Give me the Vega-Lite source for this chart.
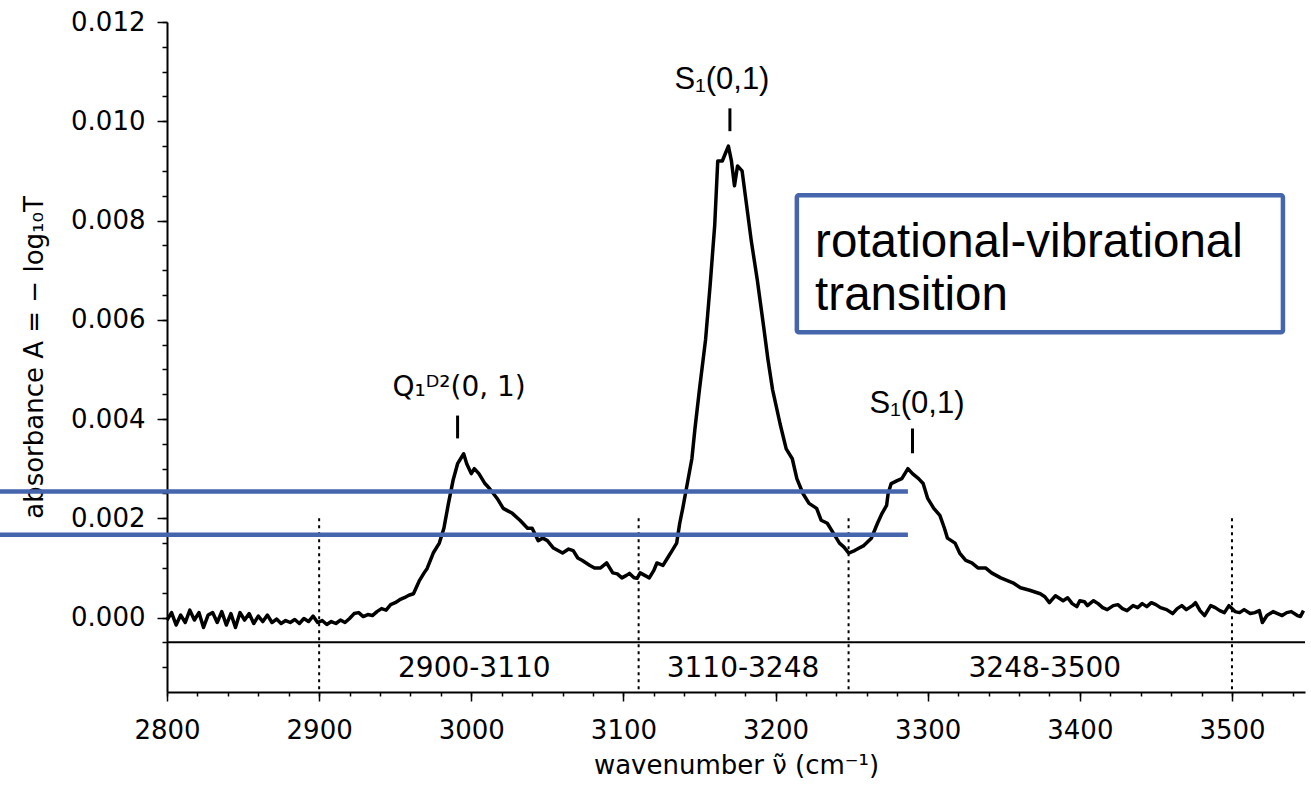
{
  "$schema": "https://vega.github.io/schema/vega-lite/v6.json",
  "width": 1138,
  "height": 670,
  "autosize": {"type": "none"},
  "padding": {"left": 167, "top": 22, "right": 6, "bottom": 93},
  "background": "white",
  "config": {
    "view": {"stroke": null},
    "axis": {
      "labelFont": "DejaVu Sans",
      "titleFont": "DejaVu Sans",
      "titleFontWeight": "normal",
      "labelColor": "black",
      "titleColor": "black",
      "domainColor": "black",
      "tickColor": "black",
      "domainWidth": 2,
      "tickWidth": 1.5,
      "grid": false,
      "labelFlush": false,
      "labelOverlap": false
    }
  },
  "datasets": {
    "spectrum": [
      {"nu": 2800, "A": -0.00005}, {"nu": 2803, "A": 0.0001}, {"nu": 2806, "A": -0.00015}, {"nu": 2809, "A": 0.00005},
      {"nu": 2812, "A": -0.0001}, {"nu": 2815, "A": 0.00015}, {"nu": 2818, "A": -0.00005}, {"nu": 2821, "A": 0.0001},
      {"nu": 2824, "A": -0.0002}, {"nu": 2827, "A": 0.00005}, {"nu": 2830, "A": 0.0001}, {"nu": 2833, "A": -0.0001},
      {"nu": 2836, "A": 0.00012}, {"nu": 2839, "A": -0.00015}, {"nu": 2842, "A": 0.00008}, {"nu": 2845, "A": -0.0002},
      {"nu": 2848, "A": 0.0001}, {"nu": 2851, "A": -0.00005}, {"nu": 2854, "A": 0.00008}, {"nu": 2857, "A": -0.00012},
      {"nu": 2860, "A": 0.00003}, {"nu": 2863, "A": -0.00008}, {"nu": 2866, "A": 0.00005}, {"nu": 2869, "A": -0.0001},
      {"nu": 2872, "A": -0.00003}, {"nu": 2875, "A": -0.00012}, {"nu": 2878, "A": -0.00006}, {"nu": 2881, "A": -0.0001},
      {"nu": 2884, "A": -0.00004}, {"nu": 2887, "A": -0.00012}, {"nu": 2890, "A": -0.00002}, {"nu": 2893, "A": -0.00008},
      {"nu": 2896, "A": 0.00003}, {"nu": 2899, "A": -0.0001}, {"nu": 2902, "A": -0.00006}, {"nu": 2905, "A": -0.00014},
      {"nu": 2908, "A": -0.00008}, {"nu": 2911, "A": -0.00012}, {"nu": 2914, "A": -0.00005}, {"nu": 2917, "A": -0.0001},
      {"nu": 2920, "A": -0.00002}, {"nu": 2923, "A": 0.00008}, {"nu": 2926, "A": 0.0001}, {"nu": 2929, "A": 0.00002},
      {"nu": 2932, "A": 0.00006}, {"nu": 2935, "A": 0.00004}, {"nu": 2938, "A": 0.00012}, {"nu": 2941, "A": 0.00018},
      {"nu": 2944, "A": 0.00015}, {"nu": 2947, "A": 0.00026}, {"nu": 2950, "A": 0.0003}, {"nu": 2953, "A": 0.00036},
      {"nu": 2956, "A": 0.0004}, {"nu": 2959, "A": 0.00045}, {"nu": 2962, "A": 0.00048}, {"nu": 2966, "A": 0.00075},
      {"nu": 2969, "A": 0.0009}, {"nu": 2971, "A": 0.00099}, {"nu": 2975, "A": 0.0013}, {"nu": 2979, "A": 0.0015},
      {"nu": 2982, "A": 0.0018}, {"nu": 2985, "A": 0.0023}, {"nu": 2988, "A": 0.00276}, {"nu": 2991, "A": 0.0031},
      {"nu": 2995, "A": 0.0033}, {"nu": 2997, "A": 0.0031}, {"nu": 3000, "A": 0.0029}, {"nu": 3002, "A": 0.003},
      {"nu": 3005, "A": 0.0029}, {"nu": 3009, "A": 0.0027}, {"nu": 3012, "A": 0.0026}, {"nu": 3017, "A": 0.0024},
      {"nu": 3021, "A": 0.0022}, {"nu": 3024, "A": 0.00215}, {"nu": 3027, "A": 0.0021}, {"nu": 3032, "A": 0.00196},
      {"nu": 3037, "A": 0.0018}, {"nu": 3040, "A": 0.0018}, {"nu": 3044, "A": 0.00155}, {"nu": 3047, "A": 0.0016},
      {"nu": 3050, "A": 0.00155}, {"nu": 3054, "A": 0.0014}, {"nu": 3057, "A": 0.00135}, {"nu": 3060, "A": 0.0013},
      {"nu": 3064, "A": 0.00138}, {"nu": 3067, "A": 0.00135}, {"nu": 3070, "A": 0.0012}, {"nu": 3073, "A": 0.00115},
      {"nu": 3078, "A": 0.00105}, {"nu": 3081, "A": 0.001}, {"nu": 3085, "A": 0.001}, {"nu": 3089, "A": 0.0011},
      {"nu": 3093, "A": 0.0009}, {"nu": 3096, "A": 0.00088}, {"nu": 3099, "A": 0.0008}, {"nu": 3102, "A": 0.00085},
      {"nu": 3104, "A": 0.00089}, {"nu": 3107, "A": 0.0008}, {"nu": 3109, "A": 0.00079}, {"nu": 3111, "A": 0.0009},
      {"nu": 3114, "A": 0.00085}, {"nu": 3117, "A": 0.0008}, {"nu": 3120, "A": 0.00095}, {"nu": 3122, "A": 0.0011},
      {"nu": 3126, "A": 0.00105}, {"nu": 3129, "A": 0.0012}, {"nu": 3132, "A": 0.00135}, {"nu": 3135, "A": 0.0015},
      {"nu": 3137, "A": 0.0019}, {"nu": 3139, "A": 0.0022}, {"nu": 3142, "A": 0.0027}, {"nu": 3145, "A": 0.0032},
      {"nu": 3147, "A": 0.0038}, {"nu": 3150, "A": 0.0046}, {"nu": 3154, "A": 0.0056}, {"nu": 3157, "A": 0.0067},
      {"nu": 3160, "A": 0.0079}, {"nu": 3162, "A": 0.0092}, {"nu": 3165, "A": 0.0092}, {"nu": 3167, "A": 0.00935},
      {"nu": 3169, "A": 0.0095}, {"nu": 3171, "A": 0.0092}, {"nu": 3173, "A": 0.0087}, {"nu": 3175, "A": 0.0091},
      {"nu": 3178, "A": 0.009}, {"nu": 3181, "A": 0.0083}, {"nu": 3184, "A": 0.0076}, {"nu": 3188, "A": 0.0068},
      {"nu": 3192, "A": 0.0059}, {"nu": 3195, "A": 0.0052}, {"nu": 3198, "A": 0.0046}, {"nu": 3203, "A": 0.0039},
      {"nu": 3207, "A": 0.0034}, {"nu": 3211, "A": 0.0032}, {"nu": 3214, "A": 0.0028}, {"nu": 3218, "A": 0.0025},
      {"nu": 3222, "A": 0.0023}, {"nu": 3227, "A": 0.0022}, {"nu": 3230, "A": 0.00196}, {"nu": 3234, "A": 0.0019},
      {"nu": 3238, "A": 0.0017}, {"nu": 3242, "A": 0.0015}, {"nu": 3245, "A": 0.00142}, {"nu": 3248, "A": 0.0013},
      {"nu": 3252, "A": 0.00135}, {"nu": 3255, "A": 0.0014}, {"nu": 3258, "A": 0.00145}, {"nu": 3263, "A": 0.0016},
      {"nu": 3267, "A": 0.0019}, {"nu": 3270, "A": 0.0021}, {"nu": 3273, "A": 0.00226}, {"nu": 3274, "A": 0.0025},
      {"nu": 3276, "A": 0.0027}, {"nu": 3280, "A": 0.00276}, {"nu": 3283, "A": 0.0028}, {"nu": 3287, "A": 0.003},
      {"nu": 3290, "A": 0.0029}, {"nu": 3294, "A": 0.0028}, {"nu": 3297, "A": 0.0027}, {"nu": 3300, "A": 0.0024},
      {"nu": 3304, "A": 0.0022}, {"nu": 3308, "A": 0.00206}, {"nu": 3311, "A": 0.0018}, {"nu": 3313, "A": 0.0016},
      {"nu": 3318, "A": 0.0015}, {"nu": 3321, "A": 0.0013}, {"nu": 3325, "A": 0.00115}, {"nu": 3329, "A": 0.0011},
      {"nu": 3333, "A": 0.001}, {"nu": 3338, "A": 0.001}, {"nu": 3342, "A": 0.0009}, {"nu": 3348, "A": 0.0008},
      {"nu": 3352, "A": 0.00075}, {"nu": 3356, "A": 0.0007}, {"nu": 3361, "A": 0.0006}, {"nu": 3367, "A": 0.00055},
      {"nu": 3374, "A": 0.00048}, {"nu": 3377, "A": 0.00042}, {"nu": 3380, "A": 0.0003}, {"nu": 3384, "A": 0.00044},
      {"nu": 3389, "A": 0.00034}, {"nu": 3392, "A": 0.0004}, {"nu": 3395, "A": 0.00028}, {"nu": 3398, "A": 0.00022},
      {"nu": 3400, "A": 0.00034}, {"nu": 3403, "A": 0.00032}, {"nu": 3405, "A": 0.00024}, {"nu": 3409, "A": 0.00034},
      {"nu": 3412, "A": 0.00028}, {"nu": 3415, "A": 0.0002}, {"nu": 3418, "A": 0.00016}, {"nu": 3422, "A": 0.00024},
      {"nu": 3425, "A": 0.00026}, {"nu": 3428, "A": 0.00018}, {"nu": 3431, "A": 0.00014}, {"nu": 3435, "A": 0.00024},
      {"nu": 3438, "A": 0.0002}, {"nu": 3441, "A": 0.00028}, {"nu": 3444, "A": 0.00022}, {"nu": 3447, "A": 0.0003},
      {"nu": 3450, "A": 0.00026}, {"nu": 3453, "A": 0.0002}, {"nu": 3457, "A": 0.00016}, {"nu": 3461, "A": 0.00008},
      {"nu": 3464, "A": 0.00018}, {"nu": 3467, "A": 0.00024}, {"nu": 3470, "A": 0.00016}, {"nu": 3474, "A": 0.00024},
      {"nu": 3476, "A": 0.0003}, {"nu": 3479, "A": 0.00014}, {"nu": 3482, "A": 0.00004}, {"nu": 3486, "A": 0.00024},
      {"nu": 3489, "A": 0.0002}, {"nu": 3492, "A": 0.00014}, {"nu": 3495, "A": 0.0001}, {"nu": 3498, "A": 0.00024},
      {"nu": 3500, "A": 0.00018}, {"nu": 3502, "A": 0.00012}, {"nu": 3505, "A": 0.0001}, {"nu": 3508, "A": 0.00016},
      {"nu": 3512, "A": 0.00008}, {"nu": 3515, "A": 0.0001}, {"nu": 3518, "A": 0.00014}, {"nu": 3520, "A": -0.0001},
      {"nu": 3523, "A": 0.00004}, {"nu": 3527, "A": 0.00012}, {"nu": 3530, "A": 0.00008}, {"nu": 3533, "A": 0.00004},
      {"nu": 3536, "A": 0.0001}, {"nu": 3539, "A": 0.00012}, {"nu": 3543, "A": 0.00004}, {"nu": 3545, "A": 0.00002},
      {"nu": 3547, "A": 0.00014}
    ],
    "bounds": [
      {"nu": 2900, "top": 0.002, "bottom": -0.0015},
      {"nu": 3110, "top": 0.002, "bottom": -0.0015},
      {"nu": 3248, "top": 0.002, "bottom": -0.0015},
      {"nu": 3500, "top": 0.002, "bottom": -0.0015}
    ],
    "baseline": [{"nu": 2800, "nu2": 3548, "A": -0.0005}],
    "regions": [
      {"nu": 3002, "A": -0.00103, "label": "2900-3110"},
      {"nu": 3178.6, "A": -0.00103, "label": "3110-3248"},
      {"nu": 3377, "A": -0.00103, "label": "3248-3500"}
    ],
    "blue": [
      {"nu": 2690, "nu2": 3287, "A": 0.00254},
      {"nu": 2690, "nu2": 3287, "A": 0.00167}
    ],
    "peakticks": [
      {"nu": 3170, "A": 0.0098, "A2": 0.01026},
      {"nu": 2991, "A": 0.00361, "A2": 0.00407},
      {"nu": 3290, "A": 0.00331, "A2": 0.00381}
    ],
    "slabels": [
      {"nu": 3164.8, "A": 0.01083, "label": "S₁(0,1)"},
      {"nu": 3293, "A": 0.00431, "label": "S₁(0,1)"}
    ],
    "qlabel": [{"nu": 2992, "A": 0.00462, "label": "Q₁ᴰ²(0, 1)"}],
    "box": [{"nu": 3214, "nu2": 3533.5, "A": 0.00851, "A2": 0.00575}],
    "boxtext": [
      {"nu": 3226, "A": 0.00754, "label": "rotational-vibrational"},
      {"nu": 3226, "A": 0.00647, "label": "transition"}
    ]
  },
  "resolve": {"axis": {"x": "independent", "y": "independent"}},
  "layer": [
    {
      "layer": [
        {
          "data": {"name": "spectrum"},
          "mark": {"type": "line", "color": "black", "strokeWidth": 3.5, "strokeJoin": "round"},
          "encoding": {
            "x": {
              "field": "nu", "type": "quantitative",
              "scale": {"domain": [2800, 3548], "nice": false, "zero": false},
              "axis": {
                "orient": "bottom",
                "title": "wavenumber ν̃ (cm⁻¹)",
                "values": [2800, 2900, 3000, 3100, 3200, 3300, 3400, 3500],
                "format": "d",
                "tickSize": 9,
                "labelFontSize": 26,
                "titleFontSize": 26,
                "labelPadding": 16,
                "titlePadding": 9
              }
            },
            "y": {
              "field": "A", "type": "quantitative",
              "scale": {"domain": [-0.0015, 0.012], "nice": false, "zero": false},
              "axis": {
                "orient": "left",
                "title": "absorbance A = − log₁₀T",
                "values": [0, 0.002, 0.004, 0.006, 0.008, 0.01, 0.012],
                "format": ".3f",
                "tickSize": 10,
                "labelFontSize": 26,
                "titleFontSize": 26,
                "labelPadding": 12,
                "titlePadding": 23
              }
            }
          }
        },
        {
          "data": {"name": "bounds"},
          "mark": {"type": "rule", "color": "black", "strokeWidth": 2, "strokeDash": [3, 4]},
          "encoding": {
            "x": {"field": "nu", "type": "quantitative"},
            "y": {"field": "top", "type": "quantitative"},
            "y2": {"field": "bottom"}
          }
        },
        {
          "data": {"name": "baseline"},
          "mark": {"type": "rule", "color": "black", "strokeWidth": 2},
          "encoding": {
            "x": {"field": "nu", "type": "quantitative"},
            "x2": {"field": "nu2"},
            "y": {"field": "A", "type": "quantitative"}
          }
        },
        {
          "data": {"name": "regions"},
          "mark": {"type": "text", "font": "DejaVu Sans", "fontSize": 28, "color": "black", "align": "center", "baseline": "middle"},
          "encoding": {
            "x": {"field": "nu", "type": "quantitative"},
            "y": {"field": "A", "type": "quantitative"},
            "text": {"field": "label"}
          }
        },
        {
          "data": {"name": "peakticks"},
          "mark": {"type": "rule", "color": "black", "strokeWidth": 3},
          "encoding": {
            "x": {"field": "nu", "type": "quantitative"},
            "y": {"field": "A", "type": "quantitative"},
            "y2": {"field": "A2"}
          }
        },
        {
          "data": {"name": "slabels"},
          "mark": {"type": "text", "font": "Liberation Sans", "fontSize": 31, "color": "black", "align": "center", "baseline": "middle"},
          "encoding": {
            "x": {"field": "nu", "type": "quantitative"},
            "y": {"field": "A", "type": "quantitative"},
            "text": {"field": "label"}
          }
        },
        {
          "data": {"name": "qlabel"},
          "mark": {"type": "text", "font": "DejaVu Sans", "fontSize": 28, "color": "black", "align": "center", "baseline": "middle"},
          "encoding": {
            "x": {"field": "nu", "type": "quantitative"},
            "y": {"field": "A", "type": "quantitative"},
            "text": {"field": "label"}
          }
        },
        {
          "data": {"name": "blue"},
          "mark": {"type": "rule", "color": "#4565ad", "strokeWidth": 4.5, "clip": false},
          "encoding": {
            "x": {"field": "nu", "type": "quantitative"},
            "x2": {"field": "nu2"},
            "y": {"field": "A", "type": "quantitative"}
          }
        },
        {
          "data": {"name": "box"},
          "mark": {"type": "rect", "fill": "white", "stroke": "#4565ad", "strokeWidth": 4.5, "cornerRadius": 2},
          "encoding": {
            "x": {"field": "nu", "type": "quantitative"},
            "x2": {"field": "nu2"},
            "y": {"field": "A", "type": "quantitative"},
            "y2": {"field": "A2"}
          }
        },
        {
          "data": {"name": "boxtext"},
          "mark": {"type": "text", "font": "Liberation Sans", "fontSize": 47.5, "color": "black", "align": "left", "baseline": "middle"},
          "encoding": {
            "x": {"field": "nu", "type": "quantitative"},
            "y": {"field": "A", "type": "quantitative"},
            "text": {"field": "label"}
          }
        }
      ]
    },
    {
      "data": {"name": "baseline"},
      "mark": {"type": "rule", "opacity": 0},
      "encoding": {
        "x": {
          "field": "nu", "type": "quantitative",
          "axis": {
            "orient": "bottom",
            "title": null,
            "labels": false,
            "domain": false,
            "tickSize": 4,
            "values": [2800, 2820, 2840, 2860, 2880, 2900, 2920, 2940, 2960, 2980, 3000, 3020, 3040, 3060, 3080, 3100, 3120, 3140, 3160, 3180, 3200, 3220, 3240, 3260, 3280, 3300, 3320, 3340, 3360, 3380, 3400, 3420, 3440, 3460, 3480, 3500, 3520, 3540]
          }
        },
        "x2": {"field": "nu2"},
        "y": {
          "field": "A", "type": "quantitative",
          "axis": {
            "orient": "left",
            "title": null,
            "labels": false,
            "domain": false,
            "tickSize": 5,
            "values": [-0.001, -0.0005, 0, 0.0005, 0.001, 0.0015, 0.002, 0.0025, 0.003, 0.0035, 0.004, 0.0045, 0.005, 0.0055, 0.006, 0.0065, 0.007, 0.0075, 0.008, 0.0085, 0.009, 0.0095, 0.01, 0.0105, 0.011, 0.0115, 0.012]
          }
        }
      }
    }
  ]
}
